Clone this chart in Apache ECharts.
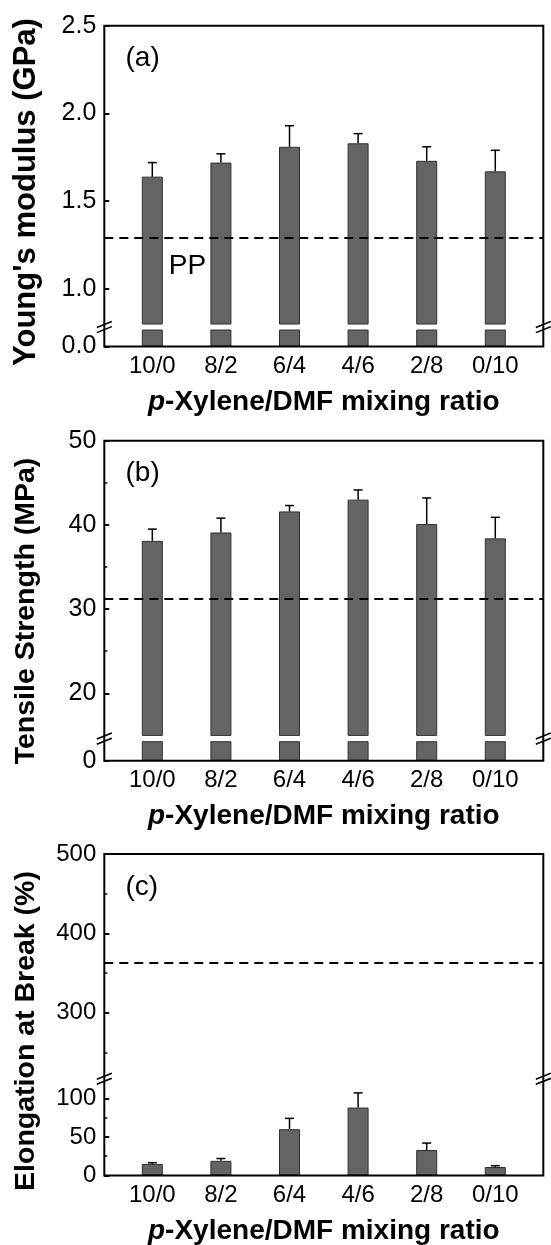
<!DOCTYPE html>
<html>
<head>
<meta charset="utf-8">
<script src="https://cdn.jsdelivr.net/npm/echarts@6/dist/echarts.min.js"></script>
<style>
  html, body { margin: 0; padding: 0; background: #fff; }
  #chart { width: 551px; height: 1245px; }
</style>
</head>
<body>
<div id="chart"></div>
<script>
// Solvent mixing ratios (p-Xylene/DMF)
const ratios = ['10/0', '8/2', '6/4', '4/6', '2/8', '0/10'];

// (a) Young's modulus, GPa
const modulus = [1.64, 1.72, 1.81, 1.83, 1.73, 1.67];
const modulusErr = [0.08, 0.05, 0.12, 0.055, 0.08, 0.12];
const modulusPP = 1.29;
const modulusTicks = [1.0, 1.5, 2.0, 2.5];
const modulusLowTicks = [0];

// (b) Tensile strength, MPa
const strength = [38.1, 39.1, 41.6, 43.0, 40.1, 38.4];
const strengthErr = [1.4, 1.7, 0.7, 1.15, 3.1, 2.5];
const strengthPP = 31.2;
const strengthTicks = [20, 30, 40, 50];
const strengthMinor = [25, 35, 45];
const strengthLowTicks = [0];

// (c) Elongation at break, %
const elongation = [15, 19, 60, 88, 33, 11];
const elongationErr = [1.5, 3, 14, 19, 9, 1.7];
const elongationPP = 363;
const elongationTicks = [300, 400, 500];
const elongationMinor = [250, 350, 450];
const elongationLowTicks = [0, 50, 100];
const elongationLowMinor = [25, 75];

const FONT = '"Liberation Sans", Arial, Helvetica, sans-serif';
const PLOT_LEFT = 104.3;
const PLOT_RIGHT = 543.3;
const X_MIN = 0.3, X_MAX = 6.7;

// Each panel is a broken axis: an upper grid and a short lower grid near zero.
const panels = [
  {
    values: modulus, errors: modulusErr, pp: modulusPP, letter: '(a)',
    yTitle: "Young's modulus (GPa)", yTitleY: 192, yTitleSize: 31, tickSize: 25,
    top: 25.7, upperBottom: 324.05, lowerTop: 330, bottom: 346.5,
    upperMin: 0.8, upperMax: 2.5, lowerMax: 0.1,
    ticks: modulusTicks, minor: null, lowTicks: modulusLowTicks, lowMinor: null,
    fmt: v => v.toFixed(1), errInLower: false, ppLabel: true
  },
  {
    values: strength, errors: strengthErr, pp: strengthPP, letter: '(b)',
    yTitle: 'Tensile Strength (MPa)', yTitleY: 611, yTitleSize: 28.5, tickSize: 25,
    top: 440.7, upperBottom: 735.4, lowerTop: 741.7, bottom: 760.7,
    upperMin: 15, upperMax: 50, lowerMax: 3,
    ticks: strengthTicks, minor: strengthMinor, lowTicks: strengthLowTicks, lowMinor: null,
    fmt: v => String(v), errInLower: false, ppLabel: false
  },
  {
    values: elongation, errors: elongationErr, pp: elongationPP, letter: '(c)',
    yTitle: 'Elongation at Break (%)', yTitleY: 1031, yTitleSize: 28.5, tickSize: 24,
    top: 854, upperBottom: 1076.2, lowerTop: 1081.3, bottom: 1175.5,
    upperMin: 220, upperMax: 500, lowerMax: 122,
    ticks: elongationTicks, minor: elongationMinor, lowTicks: elongationLowTicks, lowMinor: elongationLowMinor,
    fmt: v => String(v), errInLower: true, ppLabel: false
  }
];

const grids = [], xAxes = [], yAxes = [], series = [], graphics = [];
const positions = ratios.map((_, k) => k + 1);

function gridBox(top, bottom, extra) {
  return Object.assign({
    left: PLOT_LEFT, width: PLOT_RIGHT - PLOT_LEFT, top: top, height: bottom - top,
    containLabel: false, outerBoundsMode: 'none'
  }, extra || {});
}

function hiddenX(gridIndex) {
  return { gridIndex, type: 'value', min: X_MIN, max: X_MAX, show: false };
}

function labelledY(gridIndex, min, max, ticks, fmt, size) {
  return {
    gridIndex, type: 'value', min, max, position: 'left',
    axisLine: { show: false, onZero: false },
    splitLine: { show: false },
    axisTick: { show: true, inside: true, length: 5, customValues: ticks,
      lineStyle: { color: '#000', width: 2 } },
    axisLabel: { show: true, customValues: ticks, formatter: fmt, color: '#000',
      fontSize: size, fontFamily: FONT, margin: 8 }
  };
}

function minorY(gridIndex, min, max, ticks) {
  return {
    gridIndex, type: 'value', min, max, position: 'left',
    axisLine: { show: false, onZero: false },
    splitLine: { show: false },
    axisLabel: { show: false },
    axisTick: { show: true, inside: true, length: 3, customValues: ticks,
      lineStyle: { color: '#000', width: 1.5 } }
  };
}

function barSeries(xi, yi, values, extra) {
  return Object.assign({
    type: 'bar', xAxisIndex: xi, yAxisIndex: yi,
    data: values.map((v, k) => [positions[k], v]),
    barWidth: 21, clip: true,
    itemStyle: { color: '#646464', borderColor: '#303030', borderWidth: 1 },
    z: 2
  }, extra || {});
}

function errorSeries(xi, yi, values, errors) {
  return {
    type: 'custom', xAxisIndex: xi, yAxisIndex: yi, z: 3,
    data: values.map((v, k) => [positions[k], v, errors[k]]),
    renderItem: function (params, api) {
      const x = api.value(0), y = api.value(1), e = api.value(2);
      const base = api.coord([x, y]);
      const tip = api.coord([x, y + e]);
      return {
        type: 'group',
        children: [
          { type: 'line', shape: { x1: base[0], y1: base[1], x2: tip[0], y2: tip[1] },
            style: { stroke: '#000', lineWidth: 1.5 } },
          { type: 'line', shape: { x1: tip[0] - 4.5, y1: tip[1], x2: tip[0] + 4.5, y2: tip[1] },
            style: { stroke: '#000', lineWidth: 1.5 } }
        ]
      };
    }
  };
}

function breakMark(cx, cy) {
  const out = [];
  [-2.6, 2.6].forEach(d => {
    out.push({
      type: 'line', z: 100,
      shape: { x1: cx - 7.5, y1: cy + d + 3, x2: cx + 7.5, y2: cy + d - 3 },
      style: { stroke: '#000', lineWidth: 1.6 }
    });
  });
  return out;
}

panels.forEach(p => {
  // frame around the whole panel
  const gFrame = grids.length;
  grids.push(gridBox(p.top, p.bottom, { show: true, borderColor: '#000', borderWidth: 2,
    backgroundColor: 'transparent', z: 5 }));
  xAxes.push({ gridIndex: gFrame, type: 'value', min: 0, max: 1, show: false });
  yAxes.push({ gridIndex: gFrame, type: 'value', min: 0, max: 1, show: false });

  // upper part of the broken axis
  const gUp = grids.length;
  grids.push(gridBox(p.top, p.upperBottom));
  const xUp = xAxes.length;
  xAxes.push(hiddenX(gUp));
  const yUp = yAxes.length;
  yAxes.push(labelledY(gUp, p.upperMin, p.upperMax, p.ticks, p.fmt, p.tickSize));
  if (p.minor) yAxes.push(minorY(gUp, p.upperMin, p.upperMax, p.minor));

  // lower part near zero
  const gLow = grids.length;
  grids.push(gridBox(p.lowerTop, p.bottom));
  const xLow = xAxes.length;
  xAxes.push({
    gridIndex: gLow, type: 'value', min: X_MIN, max: X_MAX,
    axisLine: { show: false, onZero: false }, axisTick: { show: false }, splitLine: { show: false },
    axisLabel: { customValues: positions, formatter: v => ratios[Math.round(v) - 1],
      color: '#000', fontSize: 24, fontFamily: FONT, margin: 8 }
  });
  const yLow = yAxes.length;
  yAxes.push(labelledY(gLow, 0, p.lowerMax, p.lowTicks, p.fmt, p.tickSize));
  if (p.lowMinor) yAxes.push(minorY(gLow, 0, p.lowerMax, p.lowMinor));

  series.push(barSeries(xUp, yUp, p.values, {
    markLine: {
      silent: true, symbol: 'none', animation: false,
      label: { show: false },
      lineStyle: { color: '#000', type: [9, 6], width: 2 },
      data: [{ yAxis: p.pp }]
    }
  }));
  series.push(barSeries(xLow, yLow, p.values));
  if (p.errInLower) series.push(errorSeries(xLow, yLow, p.values, p.errors));
  else series.push(errorSeries(xUp, yUp, p.values, p.errors));

  // axis break marks on both sides
  const by = (p.upperBottom + p.lowerTop) / 2;
  graphics.push(...breakMark(PLOT_LEFT, by), ...breakMark(PLOT_RIGHT, by));

  // panel letter
  graphics.push({
    type: 'text', x: 125.5, y: p.top + 33, z: 100,
    style: { text: p.letter, fill: '#000', fontSize: 28, fontFamily: FONT,
      align: 'left', verticalAlign: 'middle' }
  });

  // y-axis title
  graphics.push({
    type: 'text', x: 26, y: p.yTitleY, rotation: Math.PI / 2, z: 100,
    style: { text: p.yTitle, fill: '#000', fontSize: p.yTitleSize, fontWeight: 'bold', fontFamily: FONT,
      align: 'center', verticalAlign: 'middle' }
  });

  // x-axis title
  graphics.push({
    type: 'text', x: (PLOT_LEFT + PLOT_RIGHT) / 2, y: p.bottom + 56, z: 100,
    style: {
      text: '{i|p}{b|-Xylene/DMF mixing ratio}',
      fill: '#000', fontSize: 28, fontWeight: 'bold', fontFamily: FONT,
      align: 'center', verticalAlign: 'middle',
      rich: {
        i: { fontStyle: 'italic', fontWeight: 'bold', fontSize: 28, fontFamily: FONT, fill: '#000' },
        b: { fontWeight: 'bold', fontSize: 28, fontFamily: FONT, fill: '#000' }
      }
    }
  });

  if (p.ppLabel) {
    graphics.push({
      type: 'text', x: 168.7, y: 266.7, z: 100,
      style: { text: 'PP', fill: '#000', fontSize: 28, fontFamily: FONT,
        align: 'left', verticalAlign: 'middle' }
    });
  }
});

const chart = echarts.init(document.getElementById('chart'), null, { renderer: 'canvas' });
chart.setOption({
  animation: false,
  backgroundColor: '#fff',
  grid: grids,
  xAxis: xAxes,
  yAxis: yAxes,
  series: series,
  graphic: { elements: graphics }
});
</script>
</body>
</html>
